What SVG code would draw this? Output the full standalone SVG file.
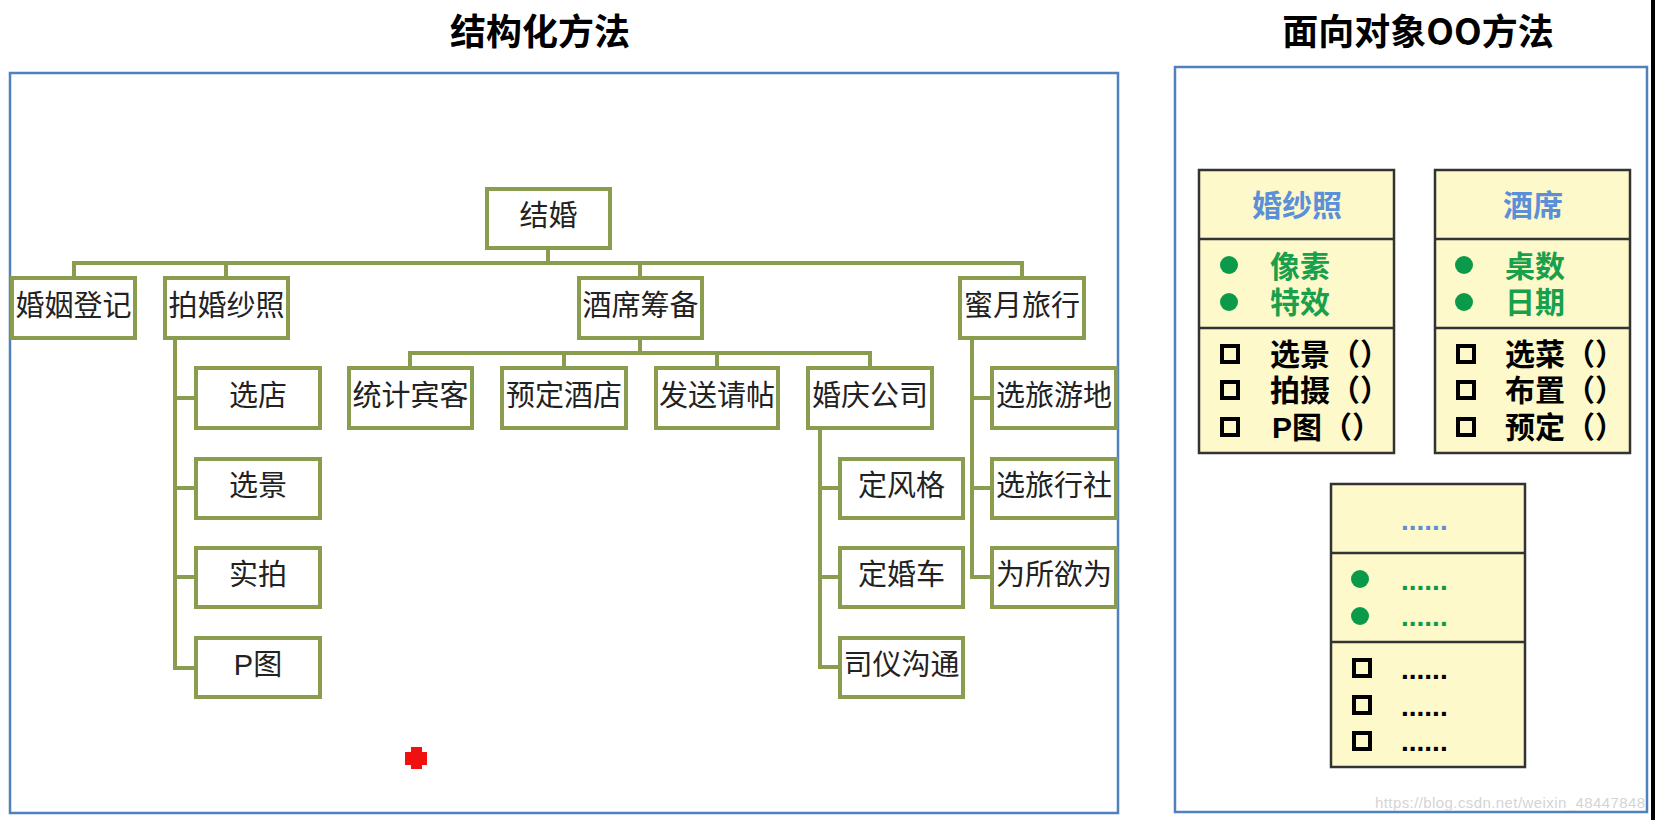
<svg xmlns="http://www.w3.org/2000/svg" width="1655" height="820" viewBox="0 0 1655 820">
<defs>
<style>
.title{font-family:"Noto Sans CJK SC","Noto Sans",sans-serif;font-weight:bold;font-size:36px;fill:#000;text-anchor:middle}
.panel{fill:none;stroke:#4f81bd;stroke-width:2.5}
.box{fill:#fff;stroke:#8a9d4f;stroke-width:4}
.lbl{font-family:"Liberation Sans","Noto Sans CJK SC",sans-serif;font-size:29px;fill:#222;text-anchor:middle}
.conn{fill:none;stroke:#8a9d4f;stroke-width:4;stroke-linejoin:miter}
.cls{fill:#fdf9ca;stroke:#333;stroke-width:2.5}
.div{stroke:#333;stroke-width:2.5}
.hdr{font-family:"Noto Sans CJK SC",sans-serif;font-weight:bold;font-size:30px;fill:#5b8fd8;text-anchor:middle}
.att{font-family:"Liberation Sans","Noto Sans CJK SC",sans-serif;font-weight:bold;font-size:30px;fill:#18a04c}
.mth{font-family:"Liberation Sans","Noto Sans CJK SC",sans-serif;font-weight:bold;font-size:30px;fill:#000}
.dot{fill:#0b9a4a}
.sq{fill:none;stroke:#000;stroke-width:4}
.dots{font-family:"Liberation Sans",sans-serif;font-weight:bold;font-size:28px}
</style>
</defs>
<rect width="1655" height="820" fill="#fff"/>
<rect x="1651" y="0" width="4" height="820" fill="#000"/>

<text class="title" x="540" y="45">结构化方法</text>
<text class="title" x="1418" y="45">面向对象OO方法</text>

<rect class="panel" x="10" y="73" width="1108" height="740"/>
<rect class="panel" x="1175" y="67" width="472" height="745"/>

<g id="connectors">
<path class="conn" d="M548 250V263M74 276V263H1022V276M226 263V276M640 263V276"/>
<path class="conn" d="M175 340V668H194M175 398H194M175 488H194M175 577H194"/>
<path class="conn" d="M640 340V353M410 366V353H870V366M564 353V366M717 353V366"/>
<path class="conn" d="M820 430V667H838M820 488H838M820 577H838"/>
<path class="conn" d="M972 340V577H990M972 398H990M972 488H990"/>
</g>

<g id="n-jiehun"><rect class="box" x="487" y="189" width="123" height="59"/><text class="lbl" x="548.5" y="226">结婚</text></g>
<g id="n-dengji"><rect class="box" x="12" y="278" width="123" height="60"/><text class="lbl" x="73.5" y="316">婚姻登记</text></g>
<g id="n-shazhao"><rect class="box" x="165" y="278" width="123" height="60"/><text class="lbl" x="226.5" y="316">拍婚纱照</text></g>
<g id="n-jiuxi"><rect class="box" x="579" y="278" width="123" height="60"/><text class="lbl" x="640.5" y="316">酒席筹备</text></g>
<g id="n-miyue"><rect class="box" x="960" y="278" width="124" height="60"/><text class="lbl" x="1022" y="316">蜜月旅行</text></g>

<g id="n-xuandian"><rect class="box" x="196" y="368" width="124" height="60"/><text class="lbl" x="258" y="406">选店</text></g>
<g id="n-xuanjing"><rect class="box" x="196" y="459" width="124" height="59"/><text class="lbl" x="258" y="496">选景</text></g>
<g id="n-shipai"><rect class="box" x="196" y="548" width="124" height="59"/><text class="lbl" x="258" y="585">实拍</text></g>
<g id="n-ptu"><rect class="box" x="196" y="638" width="124" height="59"/><text class="lbl" x="258" y="675">P图</text></g>

<g id="n-binke"><rect class="box" x="349" y="368" width="123" height="60"/><text class="lbl" x="410.5" y="406">统计宾客</text></g>
<g id="n-jiudian"><rect class="box" x="502" y="368" width="124" height="60"/><text class="lbl" x="564" y="406">预定酒店</text></g>
<g id="n-qingtie"><rect class="box" x="656" y="368" width="122" height="60"/><text class="lbl" x="717" y="406">发送请帖</text></g>
<g id="n-hunqing"><rect class="box" x="808" y="368" width="124" height="60"/><text class="lbl" x="870" y="406">婚庆公司</text></g>

<g id="n-fengge"><rect class="box" x="840" y="459" width="123" height="59"/><text class="lbl" x="901.5" y="496">定风格</text></g>
<g id="n-hunche"><rect class="box" x="840" y="548" width="123" height="59"/><text class="lbl" x="901.5" y="585">定婚车</text></g>
<g id="n-siyi"><rect class="box" x="840" y="638" width="123" height="59"/><text class="lbl" x="901.5" y="675">司仪沟通</text></g>

<g id="n-lvyoudi"><rect class="box" x="992" y="368" width="124" height="60"/><text class="lbl" x="1054" y="406">选旅游地</text></g>
<g id="n-lvxingshe"><rect class="box" x="992" y="459" width="124" height="59"/><text class="lbl" x="1054" y="496">选旅行社</text></g>
<g id="n-weisuo"><rect class="box" x="992" y="548" width="124" height="59"/><text class="lbl" x="1054" y="585">为所欲为</text></g>

<path d="M411 747H422V752H427V765H422V769H411V765H405V752H411Z" fill="#f01010"/>

<g id="cls-hunshazhao">
<rect class="cls" x="1199" y="170" width="195" height="283"/>
<line class="div" x1="1199" y1="239" x2="1394" y2="239"/>
<line class="div" x1="1199" y1="328" x2="1394" y2="328"/>
<text class="hdr" x="1297" y="216">婚纱照</text>
<circle class="dot" cx="1229" cy="265" r="9"/>
<circle class="dot" cx="1229" cy="302" r="9"/>
<text class="att" x="1270" y="277">像素</text>
<text class="att" x="1270" y="313">特效</text>
<rect class="sq" x="1222" y="346" width="16" height="16"/>
<rect class="sq" x="1222" y="382" width="16" height="16"/>
<rect class="sq" x="1222" y="419" width="16" height="16"/>
<text class="mth" x="1270" y="365">选景（）</text>
<text class="mth" x="1270" y="401">拍摄（）</text>
<text class="mth" x="1272" y="438">P图（）</text>
</g>

<g id="cls-jiuxi">
<rect class="cls" x="1435" y="170" width="195" height="283"/>
<line class="div" x1="1435" y1="239" x2="1630" y2="239"/>
<line class="div" x1="1435" y1="328" x2="1630" y2="328"/>
<text class="hdr" x="1533" y="216">酒席</text>
<circle class="dot" cx="1464" cy="265" r="9"/>
<circle class="dot" cx="1464" cy="302" r="9"/>
<text class="att" x="1505" y="277">桌数</text>
<text class="att" x="1505" y="313">日期</text>
<rect class="sq" x="1458" y="346" width="16" height="16"/>
<rect class="sq" x="1458" y="382" width="16" height="16"/>
<rect class="sq" x="1458" y="419" width="16" height="16"/>
<text class="mth" x="1505" y="365">选菜（）</text>
<text class="mth" x="1505" y="401">布置（）</text>
<text class="mth" x="1505" y="438">预定（）</text>
</g>

<g id="cls-other">
<rect class="cls" x="1331" y="484" width="194" height="283"/>
<line class="div" x1="1331" y1="553" x2="1525" y2="553"/>
<line class="div" x1="1331" y1="642" x2="1525" y2="642"/>
<text class="dots" x="1401" y="530" fill="#5b8fd8">......</text>
<circle class="dot" cx="1360" cy="579" r="9"/>
<circle class="dot" cx="1360" cy="616" r="9"/>
<text class="dots" x="1401" y="590" fill="#0b9a4a">......</text>
<text class="dots" x="1401" y="626" fill="#0b9a4a">......</text>
<rect class="sq" x="1354" y="660" width="16" height="16"/>
<rect class="sq" x="1354" y="697" width="16" height="16"/>
<rect class="sq" x="1354" y="733" width="16" height="16"/>
<text class="dots" x="1401" y="679" fill="#000">......</text>
<text class="dots" x="1401" y="716" fill="#000">......</text>
<text class="dots" x="1401" y="751" fill="#000">......</text>
</g>

<text x="1375" y="808" font-family="Liberation Sans,sans-serif" font-size="15" fill="#d4d4d4" textLength="270">https://blog.csdn.net/weixin_48447848</text>
</svg>
